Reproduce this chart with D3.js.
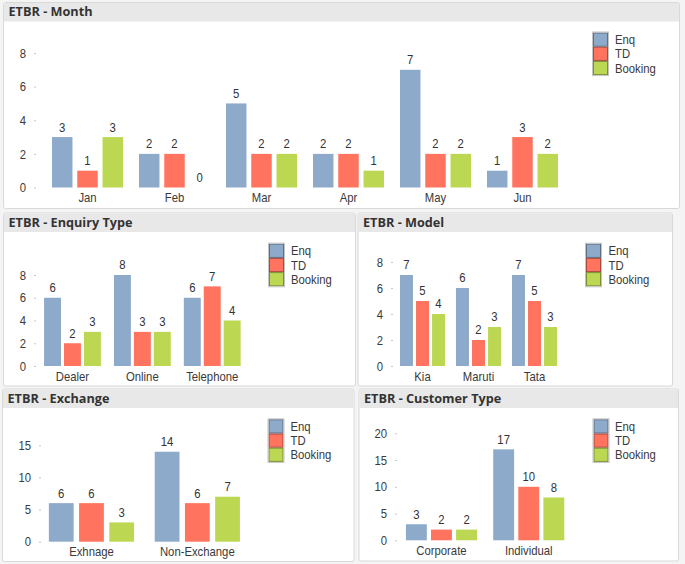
<!DOCTYPE html>
<html><head><meta charset="utf-8">
<script src="https://cdn.jsdelivr.net/npm/d3@7"></script>
<style>
html,body{margin:0;padding:0;background:#f4f4f4;}
svg{display:block;}
</style></head><body>
<svg id="c" width="685" height="564"></svg>
<script>
// ---- data ----
const seriesNames = ["Enq", "TD", "Booking"];
const seriesColors = ["#8eaacb", "#ff735f", "#bcd852"];

const monthCategories = ["Jan", "Feb", "Mar", "Apr", "May", "Jun"];
const monthEnq = [3, 2, 5, 2, 7, 1];
const monthTD = [1, 2, 2, 2, 2, 3];
const monthBooking = [3, 0, 2, 1, 2, 2];
const monthTicks = [0, 2, 4, 6, 8];

const enquiryCategories = ["Dealer", "Online", "Telephone"];
const enquiryEnq = [6, 8, 6];
const enquiryTD = [2, 3, 7];
const enquiryBooking = [3, 3, 4];
const enquiryTicks = [0, 2, 4, 6, 8];

const modelCategories = ["Kia", "Maruti", "Tata"];
const modelEnq = [7, 6, 7];
const modelTD = [5, 2, 5];
const modelBooking = [4, 3, 3];
const modelTicks = [0, 2, 4, 6, 8];

const exchangeCategories = ["Exhnage", "Non-Exchange"];
const exchangeEnq = [6, 14];
const exchangeTD = [6, 6];
const exchangeBooking = [3, 7];
const exchangeTicks = [0, 5, 10, 15];

const customerCategories = ["Corporate", "Individual"];
const customerEnq = [3, 17];
const customerTD = [2, 10];
const customerBooking = [2, 8];
const customerTicks = [0, 5, 10, 15, 20];

// ---- layout ----
const FONT = "'Liberation Sans',Arial,sans-serif";
const FS = 13;
const NARROW = 0.87;
const panels = [
  {title: "ETBR - Month", cats: monthCategories, values: [monthEnq, monthTD, monthBooking], ticks: monthTicks,
   box: [3.5, 2.5, 676, 206], y0: 187.5, yTop: 53, xr: [44, 566], pin: 0.184, pout: 0.092, bpad: 0.19,
   tickX: 36, leg: [593, 32.5, 615]},
  {title: "ETBR - Enquiry Type", cats: enquiryCategories, values: [enquiryEnq, enquiryTD, enquiryBooking], ticks: enquiryTicks,
   box: [3.5, 213, 352, 173], y0: 366, yTop: 275, xr: [37.5, 247.2], pin: 0.187, pout: 0.094, bpad: 0.15,
   tickX: 36, leg: [269, 243.7, 291]},
  {title: "ETBR - Model", cats: modelCategories, values: [modelEnq, modelTD, modelBooking], ticks: modelTicks,
   box: [358, 213, 314.5, 173], y0: 366, yTop: 262, xr: [394.5, 562.5], pin: 0.196, pout: 0.098, bpad: 0.19,
   tickX: 393, leg: [586, 243.7, 608.5]},
  {title: "ETBR - Exchange", cats: exchangeCategories, values: [exchangeEnq, exchangeTD, exchangeBooking], ticks: exchangeTicks,
   box: [2.5, 389, 351.5, 172.5], y0: 541.7, yTop: 445.3, xr: [38.6, 250.2], pin: 0.195, pout: 0.097, bpad: 0.18,
   tickX: 41, leg: [268.5, 419.3, 290.5]},
  {title: "ETBR - Customer Type", cats: customerCategories, values: [customerEnq, customerTD, customerBooking], ticks: customerTicks,
   box: [359, 389, 319.5, 172], y0: 540.3, yTop: 433.3, xr: [397.8, 572.4], pin: 0.186, pout: 0.093, bpad: 0.167,
   tickX: 397, leg: [593.5, 419.3, 615]}
];

const svg = d3.select("#c");

function narrow(sel) {
  sel.attr("transform", function () {
    const x = +this.getAttribute("x") || 0;
    return `translate(${x},0) scale(${NARROW},1) translate(${-x},0)`;
  });
}

panels.forEach(p => {
  const [bx, by, bw, bh] = p.box;
  const g = svg.append("g");
  g.append("rect").attr("x", bx).attr("y", by).attr("width", bw).attr("height", bh)
    .attr("rx", 2).attr("fill", "#fff").attr("stroke", "#d9d9d9");
  g.append("rect").attr("x", bx + 0.5).attr("y", by + 0.5).attr("width", bw - 1).attr("height", 18.5)
    .attr("fill", "#e8e8e8");
  g.append("text").attr("x", bx + 5).attr("y", by + 13.5)
    .attr("font-family", "'Open Sans',sans-serif").attr("font-weight", 700).attr("font-size", 12.7)
    .attr("fill", "#333").text(p.title);

  const yMax = p.ticks[p.ticks.length - 1];
  const y = d3.scaleLinear().domain([0, yMax]).range([p.y0, p.yTop]);
  const x0 = d3.scaleBand().domain(p.cats).range(p.xr).paddingInner(p.pin).paddingOuter(p.pout);
  const x1 = d3.scaleBand().domain(seriesNames).range([0, x0.bandwidth()]).paddingInner(p.bpad);

  // y axis
  const ya = g.append("g").attr("transform", `translate(${p.tickX},0)`)
    .call(d3.axisLeft(y).tickValues(p.ticks).tickSize(2).tickPadding(8));
  ya.select(".domain").remove();
  ya.selectAll("line").attr("stroke", "#c8c8c8");
  ya.selectAll("text").attr("font-family", FONT).attr("font-size", FS).attr("fill", "#3a3a3a").call(narrow);

  // x axis labels
  const xa = g.append("g").attr("transform", `translate(0,${p.y0})`)
    .call(d3.axisBottom(x0).tickSize(0).tickPadding(5.5));
  xa.select(".domain").remove();
  xa.selectAll("text").attr("font-family", FONT).attr("font-size", FS).attr("fill", "#3a3a3a").call(narrow);

  // bars
  seriesNames.forEach((s, si) => {
    const vals = p.values[si];
    const sg = g.append("g");
    sg.selectAll("rect").data(p.cats).join("rect")
      .attr("x", (c) => x0(c) + x1(s))
      .attr("y", (c, i) => y(vals[i]))
      .attr("width", x1.bandwidth())
      .attr("height", (c, i) => p.y0 - y(vals[i]))
      .attr("fill", seriesColors[si]);
    sg.selectAll("text").data(p.cats).join("text")
      .attr("x", (c) => x0(c) + x1(s) + x1.bandwidth() / 2)
      .attr("y", (c, i) => y(vals[i]) - 5.5)
      .attr("text-anchor", "middle")
      .attr("font-family", FONT).attr("font-size", FS).attr("fill", "#333")
      .text((c, i) => vals[i]).call(narrow);
  });

  // legend
  const [lx, ly, tx] = p.leg;
  const lg = g.append("g");
  const sh = 14.2, sw = 15;
  seriesNames.forEach((s, si) => {
    lg.append("rect").attr("x", lx + 0.5).attr("y", ly + si * sh + 0.5).attr("width", sw - 1).attr("height", sh - 1)
      .attr("fill", seriesColors[si]).attr("stroke", d3.color(seriesColors[si]).darker(1.2)).attr("stroke-width", 1);
    lg.append("text").attr("x", tx).attr("y", ly + si * sh + sh / 2).attr("dy", "0.35em")
      .attr("font-family", FONT).attr("font-size", FS).attr("fill", "#3a3a3a").text(s).call(narrow);
  });
  lg.append("rect").attr("x", lx - 0.5).attr("y", ly - 0.5).attr("width", sw + 1).attr("height", sh * 3 + 1)
    .attr("fill", "none").attr("stroke", "#c4c4c4");
});
</script>
</body></html>
